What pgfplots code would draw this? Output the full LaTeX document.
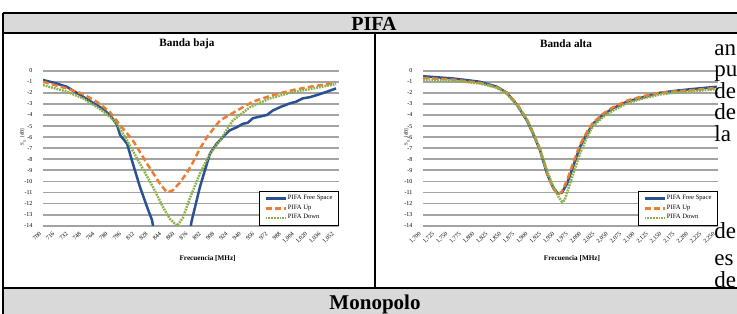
\documentclass[border=0pt]{standalone}
\usepackage{fontspec}
\setmainfont{Liberation Serif}
\usepackage{pgfplots}
\pgfplotsset{compat=1.18}
\definecolor{cblue}{HTML}{2A5293}
\definecolor{corange}{HTML}{ED7D31}
\definecolor{cgreen}{HTML}{8DB04A}
\definecolor{hdr}{HTML}{D9D9D9}
\definecolor{gridc}{HTML}{A3A3A3}

\pgfplotsset{
  s11/.style={
    scale only axis, height=77.5pt,
    ymin=-14, ymax=0, ytick={-14,-13,...,0},
    axis line style={draw=none},
    major tick length=0pt,
    ymajorgrids, grid style={gridc, line width=0.9pt},
    tick label style={font=\fontsize{3}{3.5}\selectfont},
    /pgf/number format/assume math mode=true,
    yticklabel style={xshift=-1.8pt},
    xticklabel style={rotate=45, anchor=east, yshift=-1.5pt},
    title style={font=\fontsize{5.6}{6}\selectfont\bfseries, anchor=center},
    xlabel style={font=\fontsize{3.6}{4}\selectfont\bfseries, anchor=center},
    ylabel style={font=\fontsize{2.4}{3}\selectfont, anchor=center},
    ylabel={S\textsubscript{11} [dB]},
    xlabel={Frecuencia [MHz]},
    legend style={at={(1,0)}, anchor=south east, draw=black, line width=0.5pt,
      fill=white, font=\fontsize{3.3}{4}\selectfont, inner xsep=2.5pt, inner ysep=1.2pt,
      nodes={inner sep=0.5pt}, row sep=0.2pt, cells={anchor=west},
      /tikz/every even column/.append style={column sep=0.5pt}},
    legend image code/.code={\draw[#1] (0pt,0pt) -- (10pt,0pt);},
    every axis plot/.append style={line width=1.25pt},
  },
  fs/.style={cblue, solid},
  up/.style={corange, dash pattern=on 3pt off 1.6pt},
  dn/.style={cgreen, dash pattern=on 0.9pt off 0.5pt},
}

\begin{document}
\begin{tikzpicture}
\useasboundingbox (0,0) rectangle (368.5pt,-156.5pt);
\begin{scope}[x=0.5pt,y=-0.5pt]
  \fill[hdr] (3,13) rectangle (780,33);
  \fill[hdr] (3,288) rectangle (780,340);
  \draw[line width=1pt] (2.5,13) -- (780,13);
  \draw[line width=1pt] (2.5,33) -- (780,33);
  \draw[line width=1pt] (2.5,288) -- (780,288);
  \draw[line width=1pt] (3,12.5) -- (3,340);
  \draw[line width=1pt] (375,33) -- (375,288);
  \node[font=\fontsize{10}{12}\selectfont\bfseries, anchor=base, inner sep=0pt] at (374,30) {PIFA};
  \node[font=\fontsize{10.5}{12}\selectfont\bfseries, anchor=base, inner sep=0pt] at (375,309) {Monopolo};
\end{scope}

% Banda baja
\begin{axis}[s11, at={(21.5pt,-35.35pt)}, anchor=north west, width=148pt,
  xmin=700, xmax=1055.6, xtick={700,716,...,1052},
  title={Banda baja},
  title style={at={(axis description cs:0.4865,1.095)}},
  xlabel style={at={(axis description cs:0.556,-0.21)}},
  ylabel style={at={(axis description cs:-0.068,0.572)}},
]
\addplot[fs] coordinates {
(700,-0.84) (714,-1.1) (728.5,-1.45) (745,-2.2) (760,-2.9) (771,-3.4) (780.5,-4.0)
(789,-4.9) (792.5,-5.8) (801,-6.6) (808,-8.4) (816.5,-10.5) (825,-12.3)
(831,-13.5) (834.5,-15) (840.5,-16.5) (855,-17.5) (870.5,-16) (876.5,-14.5)
(878.5,-13.6) (888.5,-10.5) (900.5,-7.5) (908.5,-6.6) (916,-6.0) (924,-5.4)
(933,-5.1) (940,-4.8) (946,-4.7) (952,-4.3) (960,-4.15) (969,-4.0) (976,-3.6)
(984.5,-3.3) (996.5,-2.95) (1004,-2.8) (1012,-2.5) (1020,-2.4) (1029,-2.2)
(1041,-1.9) (1052,-1.6)};
\addlegendentry{PIFA Free Space}
\addplot[up] coordinates {
(700,-1.0) (728.5,-1.6) (748,-2.1) (764.5,-2.8) (780,-3.7) (792.5,-4.9)
(808,-6.3) (825,-8.4) (840.5,-10.2) (849,-11.0) (856,-10.8) (864.5,-10.1)
(873,-9.2) (880,-8.3) (888,-7.1) (897,-6.0) (912.5,-4.5) (933,-3.6)
(952,-2.8) (976,-2.2) (1000,-1.75) (1024.5,-1.4) (1052,-1.1)};
\addlegendentry{PIFA Up}
\addplot[dn] coordinates {
(700,-1.3) (729,-1.9) (748,-2.5) (765,-3.3) (778,-4.0) (789,-4.8)
(801,-6.3) (816.5,-8.4) (832,-10.5) (844,-12.3) (852.5,-13.4) (861,-14.0)
(868,-13.3) (876.5,-11.5) (888.5,-9.3) (900.5,-7.5) (912.5,-6.3)
(928,-4.5) (948.5,-3.3) (972.5,-2.5) (996.5,-2.0) (1024.5,-1.6) (1052,-1.2)};
\addlegendentry{PIFA Down}
\end{axis}

% Banda alta
\begin{axis}[s11, at={(211.5pt,-35.35pt)}, anchor=north west, width=147.5pt,
  xmin=1700, xmax=2252, xtick={1700,1725,...,2250},
  title={Banda alta},
  title style={at={(axis description cs:0.485,1.095)}},
  xlabel style={at={(axis description cs:0.505,-0.21)}},
  ylabel style={at={(axis description cs:-0.054,0.572)}},
]
\addplot[fs] coordinates {
(1700,-0.5) (1728,-0.6) (1756,-0.7) (1782,-0.85) (1806.5,-1.0) (1838.5,-1.45)
(1857,-2.0) (1876,-3.1) (1894.5,-4.5) (1906,-5.7) (1919,-7.2) (1932,-9.3)
(1943,-10.5) (1952.5,-11.1) (1960,-11.0) (1969.5,-10.2) (1980.5,-8.7)
(1993.5,-6.9) (2007,-5.7) (2018,-4.8) (2036.5,-4.0) (2055.5,-3.4)
(2081.5,-2.8) (2111.5,-2.4) (2143,-2.0) (2175,-1.8) (2205,-1.65) (2250,-1.45)};
\addlegendentry{PIFA Free Space}
\addplot[up] coordinates {
(1700,-0.65) (1756,-0.8) (1806.5,-1.1) (1838.5,-1.5) (1857,-2.0) (1876,-3.0)
(1894.5,-4.4) (1906,-5.6) (1919,-7.1) (1932,-9.2) (1943,-10.6) (1952.5,-11.2)
(1960,-10.9) (1969.5,-9.9) (1980.5,-8.4) (1993.5,-6.7) (2007,-5.5)
(2018,-4.7) (2036.5,-3.9) (2055.5,-3.3) (2081.5,-2.7) (2111.5,-2.3)
(2143,-2.0) (2175,-1.85) (2205,-1.75) (2250,-1.55)};
\addlegendentry{PIFA Up}
\addplot[dn] coordinates {
(1700,-0.8) (1756,-0.9) (1806.5,-1.15) (1838.5,-1.55) (1857,-2.1) (1876,-3.1)
(1894.5,-4.4) (1906,-5.6) (1919,-7.1) (1932,-9.0) (1943,-10.4) (1952.5,-11.3)
(1960,-11.85) (1965,-11.7) (1969.5,-11.0) (1980.5,-9.4) (1993.5,-7.5)
(2007,-6.0) (2018,-5.0) (2036.5,-4.2) (2055.5,-3.6) (2081.5,-2.95)
(2111.5,-2.5) (2143,-2.15) (2175,-1.95) (2205,-1.85) (2250,-1.65)};
\addlegendentry{PIFA Down}
\end{axis}

\begin{scope}[x=0.5pt,y=-0.5pt, every node/.style={font=\fontsize{11.5}{13}\selectfont, anchor=base west, inner sep=0pt}]
  \node at (714,55) {an};
  \node at (714,76.5) {pu};
  \node at (714,98) {de};
  \node at (714,119.5) {de};
  \node at (714,141) {la};
  \node at (714,238) {de};
  \node at (714,265) {es};
  \node at (714,287) {de};
\end{scope}
\end{tikzpicture}
\end{document}
